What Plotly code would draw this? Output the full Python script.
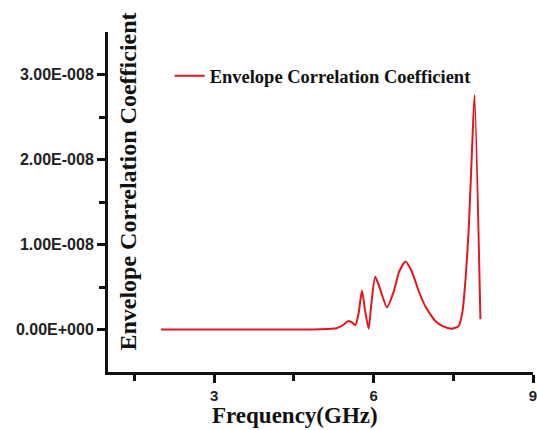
import plotly.graph_objects as go

freq_ghz = [2.0, 3.0, 4.0, 5.0, 5.3, 5.42, 5.53, 5.6, 5.655, 5.72, 5.78, 5.84, 5.906, 5.96, 6.03,
            6.12, 6.25, 6.38, 6.48, 6.60, 6.72, 6.85, 6.975, 7.16, 7.3, 7.47, 7.6, 7.67, 7.73,
            7.79, 7.855, 7.90, 8.01]
ecc_e8 = [0.0, 0.0, 0.0, 0.003, 0.015, 0.05, 0.10, 0.08, 0.05, 0.2, 0.46, 0.22, 0.01, 0.32, 0.62,
          0.48, 0.26, 0.45, 0.68, 0.80, 0.68, 0.45, 0.27, 0.1, 0.04, 0.01, 0.04, 0.2, 0.59,
          1.18, 2.16, 2.76, 0.12]
ecc = [v * 1e-8 for v in ecc_e8]

y_tickvals = [0, 1e-8, 2e-8, 3e-8]
y_ticktext = ["0.00E+000", "1.00E-008", "2.00E-008", "3.00E-008"]
x_tickvals = [3, 6, 9]
x_ticktext = ["3", "6", "9"]

series_name = "Envelope Correlation Coefficient"

fig = go.Figure()
fig.add_trace(go.Scatter(x=freq_ghz, y=ecc, mode="lines", name=series_name,
                         line=dict(color="#e3161e", width=2, shape="spline", smoothing=0.6)))

serif = "Liberation Serif"
fig.update_layout(
    width=537, height=430,
    margin=dict(l=108, r=0, t=32, b=58, pad=0),
    plot_bgcolor="white", paper_bgcolor="white",
    showlegend=True,
    legend=dict(x=0.145, y=0.87, xanchor="left", yanchor="middle",
                bgcolor="rgba(0,0,0,0)", itemwidth=30,
                font=dict(family=serif, size=18.5, color="#111", weight="bold")),
    xaxis=dict(range=[1, 9], showline=True, linecolor="#111", linewidth=3,
               showgrid=False, zeroline=False, ticklabeloverflow="allow",
               tickmode="array", tickvals=x_tickvals, ticktext=x_ticktext,
               ticks="outside", ticklen=8, tickwidth=3, tickcolor="#111",
               minor=dict(tickmode="array", tickvals=[1.5, 4.5, 7.5], ticks="outside",
                          ticklen=6, tickwidth=3, tickcolor="#111"),
               tickfont=dict(family="Liberation Sans", size=15, color="#222", weight="bold")),
    yaxis=dict(range=[-0.5e-8, 3.5e-8], showline=True, linecolor="#111", linewidth=3,
               showgrid=False, zeroline=False, ticklabeloverflow="allow",
               tickmode="array", tickvals=y_tickvals, ticktext=y_ticktext,
               ticks="outside", ticklen=8, tickwidth=3, tickcolor="#111",
               minor=dict(tickmode="array", tickvals=[0.5e-8, 1.5e-8, 2.5e-8], ticks="outside",
                          ticklen=6, tickwidth=3, tickcolor="#111"),
               tickfont=dict(family="Liberation Sans", size=16, color="#222", weight="bold")),
    annotations=[
        dict(text="Envelope Correlation Coefficient", xref="paper", yref="paper",
             x=0.047, y=0.56, xanchor="center", yanchor="middle", textangle=-90,
             showarrow=False, font=dict(family=serif, size=24, color="#111", weight="bold")),
        dict(text="Frequency(GHz)", xref="paper", yref="paper",
             x=0.44, y=-0.127, xanchor="center", yanchor="middle",
             showarrow=False, font=dict(family=serif, size=23, color="#111", weight="bold")),
    ],
)

fig.write_html("out.html", post_script="document.body.style.margin='0';",
               config={"displayModeBar": False})
